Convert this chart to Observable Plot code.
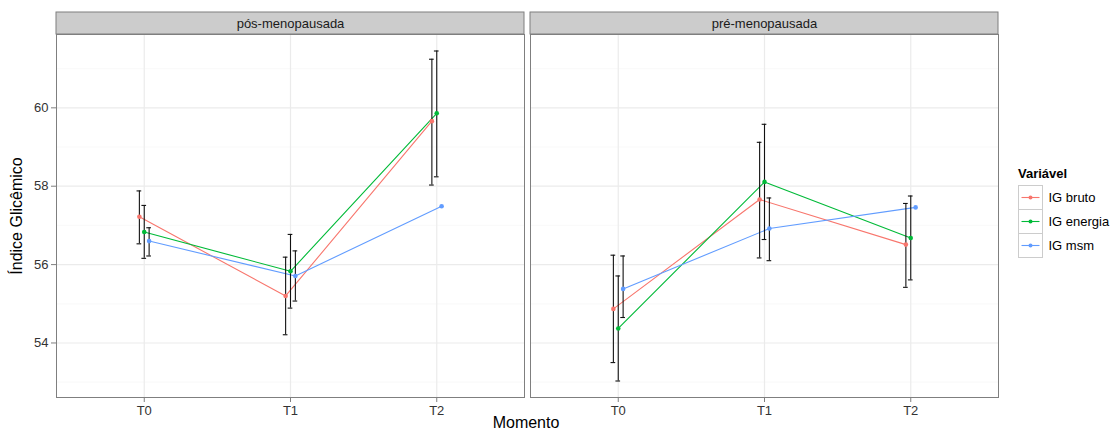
<!DOCTYPE html>
<html><head><meta charset="utf-8">
<script src="https://cdn.jsdelivr.net/npm/d3@7"></script>
<script src="https://cdn.jsdelivr.net/npm/@observablehq/plot@0.6"></script>
<style>
body{margin:0;background:#fff;font-family:"Liberation Sans",Arial,sans-serif;}
#wrap{position:relative;width:1117px;height:440px;overflow:hidden;}
#wrap svg{display:block;}
.ytitle{position:absolute;left:17px;top:216px;transform:translate(-50%,-50%) rotate(-90deg);font-size:16px;color:#000;white-space:nowrap;}
.xtitle{position:absolute;left:526px;top:423px;transform:translate(-50%,-50%);font-size:16px;color:#000;white-space:nowrap;}
#legend{position:absolute;left:1012px;top:160px;}
</style></head><body><div id="wrap"></div>
<script>
// ---- data ----
const momentos = ["T0", "T1", "T2"];
const estados = ["pós-menopausada", "pré-menopausada"];
const variaveis = ["IG bruto", "IG energia", "IG msm"];
const cores = ["#F8766D", "#00BA38", "#619CFF"];
const yTicks = [54, 56, 58, 60];
const yMinor = [53, 55, 57, 59, 61];

// pós-menopausada: mean, lower, upper (per momento)
const posBruto = [57.22, 55.20, 59.66];
const posBrutoLo = [56.53, 54.21, 58.03];
const posBrutoHi = [57.88, 56.19, 61.24];
const posEnergia = [56.83, 55.83, 59.86];
const posEnergiaLo = [56.16, 54.89, 58.24];
const posEnergiaHi = [57.51, 56.77, 61.45];
const posMsm = [56.60, 55.71, 57.49];
const posMsmLo = [56.22, 55.07, null];
const posMsmHi = [56.94, 56.35, null];
// pré-menopausada
const preBruto = [54.87, 57.66, 56.51];
const preBrutoLo = [53.50, 56.17, 55.42];
const preBrutoHi = [56.24, 59.12, 57.56];
const preEnergia = [54.37, 58.11, 56.68];
const preEnergiaLo = [53.03, 56.64, 55.61];
const preEnergiaHi = [55.71, 59.58, 57.75];
const preMsm = [55.38, 56.92, 57.46];
const preMsmLo = [54.65, 56.10, null];
const preMsmHi = [56.22, 57.70, null];

const series = {
  "pós-menopausada": [[posBruto, posBrutoLo, posBrutoHi], [posEnergia, posEnergiaLo, posEnergiaHi], [posMsm, posMsmLo, posMsmHi]],
  "pré-menopausada": [[preBruto, preBrutoLo, preBrutoHi], [preEnergia, preEnergiaLo, preEnergiaHi], [preMsm, preMsmLo, preMsmHi]]
};

const dodgeWidth = 0.1;
const capHalf = 0.016;
const rows = [];
for (const e of estados) {
  series[e].forEach(([m, lo, hi], vi) => {
    momentos.forEach((t, ti) => {
      rows.push({
        estado: e, variavel: variaveis[vi], momento: t,
        xpos: ti + 1 + (vi - 1) * dodgeWidth / 3,
        media: m[ti], lo: lo[ti], hi: hi[ti]
      });
    });
  });
}
const errRows = rows.filter(d => d.lo != null && d.hi != null);

const allVals = errRows.flatMap(d => [d.lo, d.hi]).concat(rows.map(d => d.media));
const yMin = d3.min(allVals), yMax = d3.max(allVals);
const yPad = (yMax - yMin) * 0.05;
const yDom = [yMin - yPad, yMax + yPad];
const xDom = [0.4, momentos.length + 0.6];

const plot = Plot.plot({
  width: 1117, height: 440,
  marginLeft: 55, marginRight: 119, marginTop: 34, marginBottom: 43,
  fx: {domain: estados, paddingInner: 0.0127, paddingOuter: 0, axis: null, label: null},
  x: {domain: xDom, axis: null},
  y: {domain: yDom, axis: null},
  color: {domain: variaveis, range: cores},
  style: {fontFamily: "'Liberation Sans', Arial, sans-serif", fontSize: "13px", background: "#fff"},
  marks: [
    Plot.ruleY(yMinor, {stroke: "#FAFAFA", strokeWidth: 1.2}),
    Plot.ruleY(yTicks, {stroke: "#EBEBEB", strokeWidth: 1.2}),
    Plot.ruleX(momentos.map((t, i) => i + 1), {stroke: "#EBEBEB", strokeWidth: 1.2}),
    Plot.rect(estados, {fx: d => d, y1: yDom[1], y2: yDom[1], insetTop: -22, fill: "#CCCCCC", stroke: "#7F7F7F"}),
    Plot.text(estados, {fx: d => d, text: d => d, frameAnchor: "top", lineAnchor: "middle", dy: -11, fill: "#1a1a1a", fontSize: 13}),
    Plot.frame({stroke: "#7F7F7F"}),
    Plot.axisX(momentos.map((t, i) => i + 1), {tickFormat: i => momentos[i - 1], tickSize: 5, tickPadding: 3, stroke: "#7F7F7F", fill: "#333", fontSize: 13, label: null}),
    Plot.axisY(yTicks, {tickSize: 5, tickPadding: 3, stroke: "#7F7F7F", fill: "#333", fontSize: 13, label: null}),
    Plot.line(rows, {fx: "estado", x: "xpos", y: "media", z: "variavel", stroke: "variavel", strokeWidth: 1.1}),
    Plot.ruleX(errRows, {fx: "estado", x: "xpos", y1: "lo", y2: "hi", stroke: "#111", strokeWidth: 1.1}),
    Plot.ruleY(errRows, {fx: "estado", x1: d => d.xpos - capHalf, x2: d => d.xpos + capHalf, y: "lo", stroke: "#111", strokeWidth: 1.1}),
    Plot.ruleY(errRows, {fx: "estado", x1: d => d.xpos - capHalf, x2: d => d.xpos + capHalf, y: "hi", stroke: "#111", strokeWidth: 1.1}),
    Plot.dot(rows, {fx: "estado", x: "xpos", y: "media", fill: "variavel", r: 2.3})
  ]
});

const wrap = document.getElementById("wrap");
wrap.appendChild(plot);

const yt = document.createElement("div");
yt.className = "ytitle"; yt.textContent = "Índice Glicêmico";
wrap.appendChild(yt);
const xt = document.createElement("div");
xt.className = "xtitle"; xt.textContent = "Momento";
wrap.appendChild(xt);

// legend
const key = 24;
const lg = d3.select(wrap).append("svg").attr("id", "legend")
  .attr("width", 105).attr("height", 110)
  .style("font-family", "'Liberation Sans', Arial, sans-serif");
lg.append("text").attr("x", 6).attr("y", 18).attr("font-weight", "bold").attr("font-size", 13).text("Variável");
const it = lg.selectAll("g.k").data(variaveis).join("g").attr("class", "k")
  .attr("transform", (d, i) => `translate(6.5,${25.5 + i * key})`);
it.append("rect").attr("width", key).attr("height", key).attr("fill", "#fff").attr("stroke", "#CCCCCC");
it.append("line").attr("x1", 3).attr("x2", key - 3).attr("y1", key / 2).attr("y2", key / 2)
  .attr("stroke", (d, i) => cores[i]).attr("stroke-width", 1.1);
it.append("circle").attr("cx", key / 2).attr("cy", key / 2).attr("r", 2).attr("fill", (d, i) => cores[i]);
it.append("text").attr("x", key + 6).attr("y", key / 2).attr("dy", "0.35em").attr("font-size", 13).attr("fill", "#000").text(d => d);
</script></body></html>
